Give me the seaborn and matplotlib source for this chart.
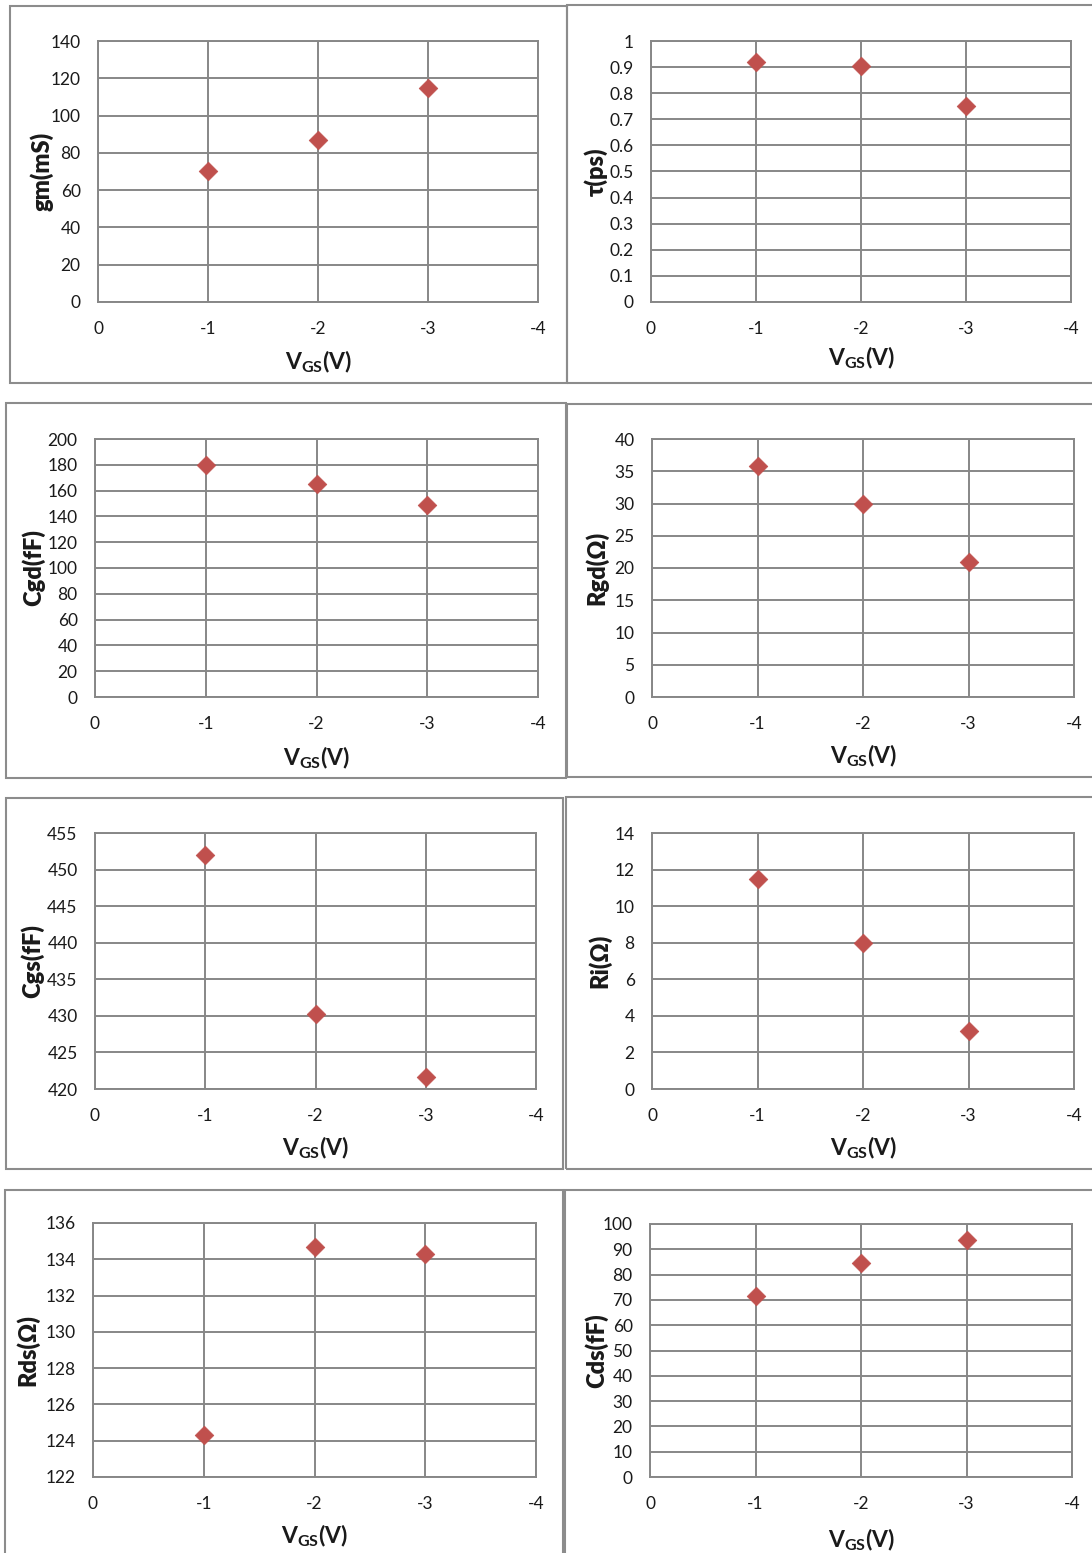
import matplotlib
matplotlib.use("Agg")
import matplotlib.pyplot as plt
from matplotlib.patches import Rectangle
from matplotlib.ticker import MultipleLocator, FuncFormatter
import seaborn as sns
import pandas as pd

sns.set_style("white")
plt.rcParams['font.family'] = ['Lato', 'DejaVu Sans']
plt.rcParams['mathtext.fontset'] = 'custom'
plt.rcParams['mathtext.rm'] = 'Lato'
plt.rcParams['mathtext.bf'] = 'Lato:bold'

# ---- data ----
vgs = [-1, -2, -3]
gm_mS = [70.5, 87, 115]
tau_ps = [0.92, 0.905, 0.752]
cgd_fF = [180, 165, 149]
rgd_ohm = [35.8, 30, 21]
cgs_fF = [452, 430.2, 421.7]
ri_ohm = [11.5, 8, 3.15]
rds_ohm = [124.3, 134.7, 134.3]
cds_fF = [71.5, 84.5, 93.5]

x_ticks = [0, -1, -2, -3, -4]

W, H = 1092, 1553
fig = plt.figure(figsize=(W / 100, H / 100), dpi=100)

GRID = '#878787'
FRAME = '#8c8c8c'
MARK = '#C0504D'
TXT = '#1a1a1a'

def frac(x0, y0, x1, y1):
    return [x0 / W, 1 - y1 / H, (x1 - x0) / W, (y1 - y0) / H]

# (values, ylabel, ylim, step, plot rect, frame rect, ylabel x, xlabel y)
panels = [
    (gm_mS, 'gm(mS)', (0, 140), 20, (98, 41, 538, 302), (10, 6, 567, 383), 42, 362),
    (tau_ps, 'τ(ps)', (0, 1), 0.1, (651, 41, 1071, 302), (567, 5, 1095, 383), 596, 358),
    (cgd_fF, 'Cgd(fF)', (0, 200), 20, (95, 439, 538, 697), (6, 403, 566, 778), 33, 758),
    (rgd_ohm, 'Rgd(Ω)', (0, 40), 5, (652, 439, 1074, 697), (567, 404, 1095, 777), 597, 756),
    (cgs_fF, 'Cgs(fF)', (420, 455), 5, (95, 833, 536, 1089), (6, 798, 563, 1169), 32, 1148),
    (ri_ohm, 'Ri(Ω)', (0, 14), 2, (652, 833, 1074, 1089), (566, 797, 1095, 1169), 600, 1148),
    (rds_ohm, 'Rds(Ω)', (122, 136), 2, (93, 1223, 536, 1477), (5, 1190, 563, 1560), 28, 1536),
    (cds_fF, 'Cds(fF)', (0, 100), 10, (650, 1224, 1072, 1477), (565, 1190, 1095, 1560), 596, 1540),
]

for vals, ylab, ylim, step, prect, frect, ylx, xly in panels:
    fx0, fy0, fx1, fy1 = frect
    fig.patches.append(Rectangle((fx0 / W, 1 - fy1 / H), (fx1 - fx0) / W, (fy1 - fy0) / H,
                                 transform=fig.transFigure, fill=False,
                                 edgecolor=FRAME, linewidth=1.5, zorder=0))
    ax = fig.add_axes(frac(*prect))
    df = pd.DataFrame({'VGS': vgs, 'val': vals})
    sns.scatterplot(data=df, x='VGS', y='val', ax=ax, marker='D', color=MARK,
                    s=90, edgecolor=MARK, linewidth=0.5, zorder=5)
    ax.set_xlim(0, -4)
    ax.set_ylim(*ylim)
    ax.set_xticks(x_ticks)
    ax.yaxis.set_major_locator(MultipleLocator(step))
    ax.yaxis.set_major_formatter(FuncFormatter(lambda v, p: '{:g}'.format(round(v, 6))))
    ax.xaxis.set_major_formatter(FuncFormatter(lambda v, p: '{:g}'.format(round(v, 6) + 0.0)))
    ax.grid(True, color=GRID, linewidth=1.4)
    ax.set_axisbelow(True)
    for s in ax.spines.values():
        s.set_color(GRID)
        s.set_linewidth(1.4)
    ax.tick_params(axis='both', length=0, labelsize=12.5, colors=TXT)
    ax.tick_params(axis='x', pad=14)
    ax.tick_params(axis='y', pad=12.5)
    px0, py0, px1, py1 = prect
    ax.set_ylabel(ylab, fontsize=17, fontweight='heavy', va='center', color=TXT)
    ax.yaxis.set_label_coords((ylx - px0) / (px1 - px0), 0.5)
    ax.set_xlabel(r'$\mathbf{V_{GS}(V)}$', fontsize=16.5, va='center', color=TXT)
    ax.xaxis.set_label_coords(0.5, -(xly - py1) / (py1 - py0))

fig.savefig('out.png', dpi=100, facecolor='white')
